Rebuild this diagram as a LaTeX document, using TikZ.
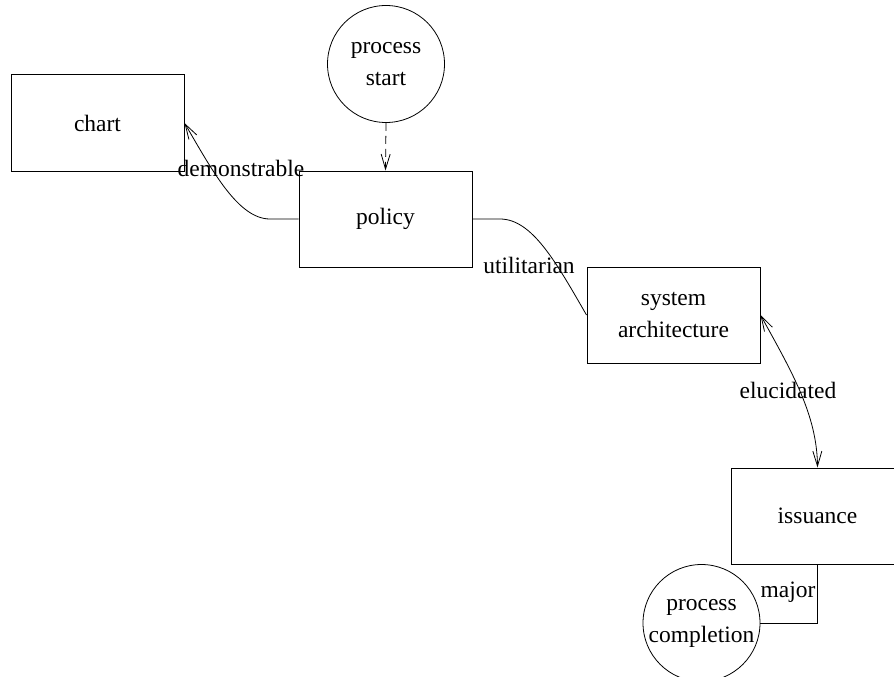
\documentclass[tikz,border=0pt]{standalone}
\usepackage{fontspec}
\setmainfont{Liberation Serif}
\usetikzlibrary{arrows.meta}
\tikzset{
  box/.style={draw, line width=1pt, minimum width=173pt, minimum height=96pt, inner sep=0pt, align=center},
  term/.style={draw, line width=0.8pt, circle, minimum size=117pt, inner sep=0pt, align=center},
  lbl/.style={inner sep=0pt, align=center},
  conn/.style={line width=0.8pt},
  tip/.style={-{Straight Barb[length=15pt,width=9pt]}},
  both/.style={{Straight Barb[length=15pt,width=9pt]}-{Straight Barb[length=15pt,width=9pt]}},
  dsh/.style={dash pattern=on 8pt off 5pt}
}
\begin{document}
\begin{tikzpicture}[x=1pt,y=-1pt,font=\fontsize{23.5}{32}\selectfont]
\clip (0,0) rectangle (894,677);
\fill[white] (0,0) rectangle (894,677);
\node[box] (chart) at (97.5,123) {chart};
\node[box] (policy) at (385.5,219) {policy};
\node[box] (sysarch) at (673.5,315) {system\\architecture};
\node[box] (issuance) at (817.5,516) {issuance};
\node[term] (pstart) at (386,64) {process\\start};
\node[term] (pcomp) at (701.5,623) {process\\completion};
\coordinate (d1) at (270,219);
\coordinate (u1) at (500,219);
\draw[conn,tip,dsh] (pstart.south) -- (policy.north);
\draw[conn,tip] (policy.west) -- (d1) .. controls (238,219) and (212,170) .. (chart.east);
\draw[conn] (policy.east) -- (u1) .. controls (532,219) and (556,262) .. (sysarch.west);
\draw[conn,both] (sysarch.east) .. controls (792,372) and (817,415) .. (issuance.north);
\draw[conn] (issuance.south) |- (pcomp.east);
\node[lbl] (ldem) at (241,168) {demonstrable};
\node[lbl] (lutil) at (529,265) {utilitarian};
\node[lbl] (leluc) at (788,390) {elucidated};
\node[lbl] (lmaj) at (788,592) {major};
\end{tikzpicture}
\end{document}
